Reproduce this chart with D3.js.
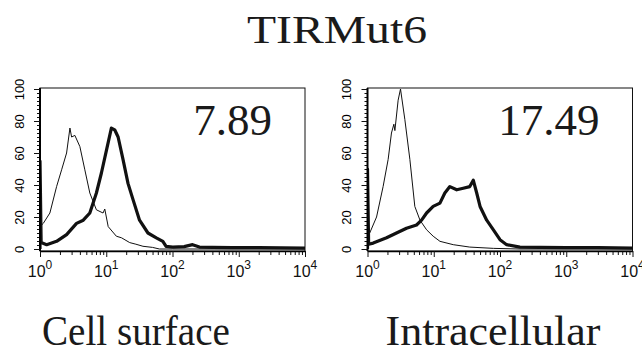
<!DOCTYPE html>
<html>
<head>
<meta charset="utf-8">
<script src="https://cdn.jsdelivr.net/npm/d3@7"></script>
<style>
body{margin:0;background:#fff}
svg{display:block}
.tick text{font-family:"Liberation Sans",Arial,sans-serif}
.serif{font-family:"Liberation Serif","Times New Roman",serif}
</style>
</head>
<body>
<script>
// data
var title="TIRMut6"
var panelNames=["Cell surface","Intracellular"]
var panelValues=["7.89","17.49"]
var xDecades=[0,1,2,3,4]
var yTicks=[0,20,40,60,80,100]

// Cell surface, control (thin)
var surfCtrlX=[1.0,1.12,1.41,1.78,2.12,2.52,2.83,3.0,3.36,4.0,4.75,5.65,7.1,8.95,9.5,10.7,14.2,17,22.6,28,35.8,50,63.5,100,1e4]
var surfCtrlY=[14,16,22.5,39,49.5,60,75.6,70,71,64,49.5,35,24.5,22.5,25,14,8,7,4,3,1.7,1,0,0,0]
// Cell surface, TIRMut6 (thick)
var surfStainX=[1.0,1.0,1.04,1.26,1.78,2.52,3.56,4.5,5.65,7.1,8.45,10.1,11.95,13.4,15.1,17.9,21.3,25.3,31.8,42.6,57,71.5,80,101,150,201,255,400,800,2000,1e4]
var surfStainY=[0,55,4,2.7,4.8,9,16,18,22.5,35,47.5,62,75.6,74.5,70,56,41,31,18,10,7,4.8,1.6,1.2,1.5,2.7,1.2,1.0,0.8,0.8,0.5]

// Intracellular, control (thin)
var intraCtrlX=[1.0,1.08,1.37,1.72,2.05,2.3,2.5,2.59,2.9,3.15,3.66,4.36,5.18,6.2,7.8,9.8,12.4,19.7,35,79.5,200,1e4]
var intraCtrlY=[10,10,20,39,56,72.5,78,74,93,100,81,56,26.6,18,12,8,4.8,2.7,1.2,0.4,0,0]
// Intracellular, TIRMut6 (thick)
var intraStainX=[1.0,1.0,1.04,1.22,1.94,2.74,3.88,5.5,6.55,7.8,9.8,12.4,14.7,17.5,22.2,27.9,35,39.5,44.5,50,63,79.5,100,126,200,400,1000,3000,1e4]
var intraStainY=[0,50,3,3.7,7,10,13,15,18,22.5,26.6,28.7,35,39,37,38,39,43,35,26.6,18,12,5.8,2.7,1.2,1.0,0.8,0.8,0.6]

var curves=[
  {ctrl:[surfCtrlX,surfCtrlY],stain:[surfStainX,surfStainY]},
  {ctrl:[intraCtrlX,intraCtrlY],stain:[intraStainX,intraStainY]}
]

var size={width:642,height:353}
var panelLeft=[40,367.5]
var plotTop=88, w=265, h=163

var svg=d3.select("body").append("svg")
          .attr("width",size.width)
          .attr("height",size.height)

svg.append("text")
   .attr("class","serif")
   .attr("x",337).attr("y",43)
   .attr("text-anchor","middle")
   .attr("font-size",40)
   .attr("textLength",180).attr("lengthAdjust","spacingAndGlyphs")
   .attr("fill","#1a1a1a")
   .text(title)

var xScale=d3.scaleLog().domain([1,1e4]).range([0,w])
var yScale=d3.scaleLinear().domain([0,100]).range([h-2,1])

var line=function(pts){
  return d3.line()
           .x(function(d){return xScale(d[0])})
           .y(function(d){return yScale(d[1])})(pts)
}
var zip=function(a){return a[0].map(function(x,i){return [x,a[1][i]]})}

var minorX=[]
for(var k=0;k<4;k++){for(var m=2;m<10;m++){minorX.push(m*Math.pow(10,k))}}

panelNames.forEach(function(name,i){
  var g=svg.append("g").attr("transform","translate("+panelLeft[i]+","+plotTop+")")

  g.append("clipPath").attr("id","clip"+i)
   .append("rect").attr("x",0).attr("y",0).attr("width",w).attr("height",h)

  // frame
  g.append("rect").attr("width",w).attr("height",h)
   .attr("fill","none").attr("stroke","#111").attr("stroke-width",1)

  var plot=g.append("g").attr("clip-path","url(#clip"+i+")")
  plot.append("path").attr("d",line(zip(curves[i].ctrl)))
      .attr("fill","none").attr("stroke","#111").attr("stroke-width",1)
  plot.append("path").attr("d",line(zip(curves[i].stain)))
      .attr("fill","none").attr("stroke","#111").attr("stroke-width",3.2)
      .attr("stroke-linejoin","round")

  // y axis
  var yMinor=g.append("g").call(d3.axisLeft(yScale).tickValues(d3.range(0,101,2.5)).tickSize(3).tickFormat(""))
  var yAxis=g.append("g").call(d3.axisLeft(yScale).tickValues(yTicks).tickSize(6).tickSizeOuter(0))
  yMinor.select(".domain").remove()
  yAxis.select(".domain").attr("stroke-width",2).attr("d","M0,0V"+h)
  yAxis.selectAll("text")
       .attr("transform","rotate(-90)")
       .attr("x",0).attr("y",-21).attr("dy","0.35em")
       .attr("text-anchor","middle")
       .attr("font-size",13)
  g.selectAll(".tick line").attr("stroke","#111")

  // x axis
  var xb=g.append("g").attr("transform","translate(0,"+h+")")
  xb.append("g").call(d3.axisBottom(xScale).tickValues(minorX).tickSize(4).tickFormat(""))
    .select(".domain").remove()
  var xAxis=xb.append("g").call(d3.axisBottom(xScale).tickValues(xDecades.map(function(e){return Math.pow(10,e)})).tickSize(6).tickSizeOuter(0).tickFormat(""))
  xAxis.select(".domain").attr("stroke-width",1.5)
  xb.selectAll(".tick line").attr("stroke","#111")
  var lab=xb.selectAll(".xlab").data(xDecades).enter().append("text")
    .attr("class","xlab")
    .attr("x",function(d){return xScale(Math.pow(10,d))})
    .attr("y",26)
    .attr("text-anchor","middle")
    .attr("font-family","'Liberation Sans', Arial, sans-serif")
    .attr("font-size",16)
    .attr("fill","#111")
  lab.append("tspan").text("10")
  lab.append("tspan").attr("dy",-8).attr("font-size",12).text(function(d){return d})

  // value label
  g.append("text")
   .attr("class","serif")
   .attr("x",w-33).attr("y",47)
   .attr("text-anchor","end")
   .attr("font-size",45)
   .attr("fill","#1a1a1a")
   .text(panelValues[i])
})

// panel names
var nameX=[136,493], nameW=[188,215]
svg.selectAll(".pname").data(panelNames).enter().append("text")
   .attr("class","pname serif")
   .attr("x",function(d,i){return nameX[i]})
   .attr("y",345)
   .attr("text-anchor","middle")
   .attr("font-size",42)
   .attr("textLength",function(d,i){return nameW[i]}).attr("lengthAdjust","spacingAndGlyphs")
   .attr("fill","#1a1a1a")
   .text(function(d){return d})
</script>
</body>
</html>
